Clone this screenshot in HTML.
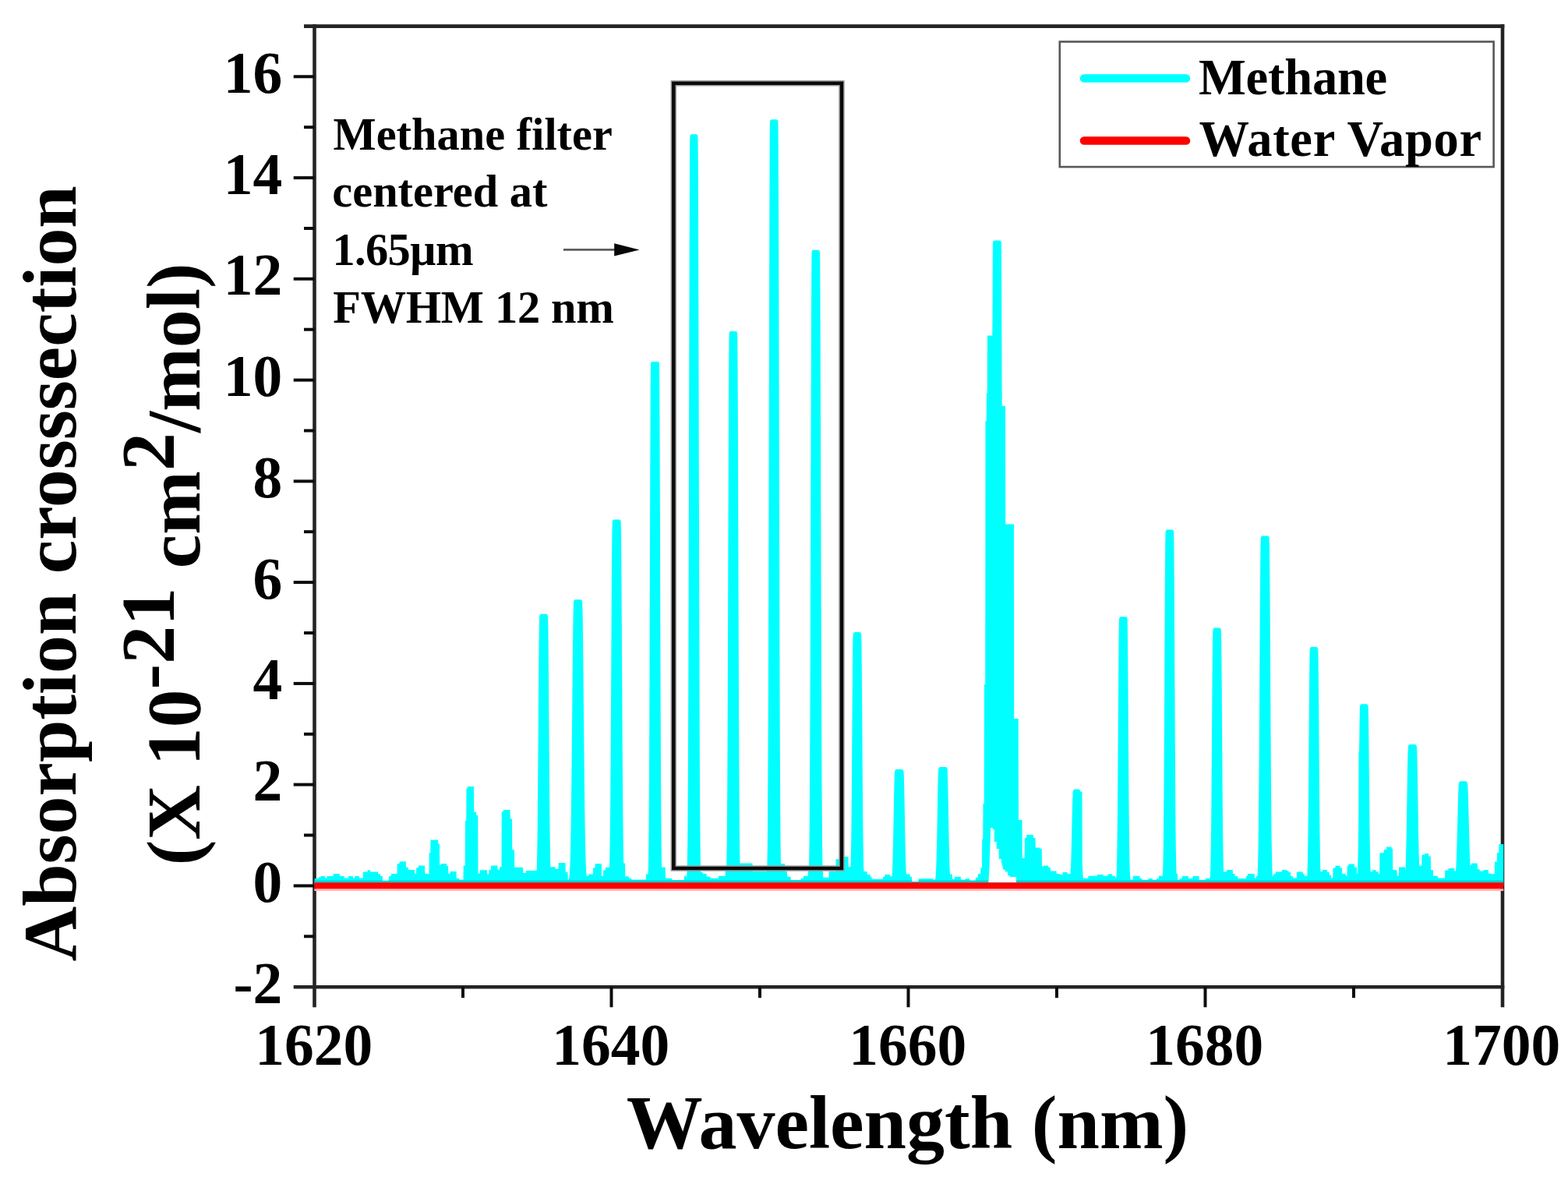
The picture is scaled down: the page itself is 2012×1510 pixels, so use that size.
<!DOCTYPE html>
<html><head><meta charset="utf-8"><title>Methane absorption cross-section</title>
<style>html,body{margin:0;padding:0;background:#fff;}svg{display:block;}</style>
</head><body>
<svg width="2012" height="1510" viewBox="0 0 2012 1510">
<rect width="2012" height="1510" fill="#ffffff"/>
<g stroke="#242424" stroke-width="4.6" fill="none">
<line x1="403.5" y1="31.3" x2="403.5" y2="1292.2"/>
<line x1="1928.0" y1="31.3" x2="1928.0" y2="1292.2"/>
<line x1="390.0" y1="33.6" x2="1930.3" y2="33.6"/>
<line x1="376.7" y1="1266.2" x2="1930.3" y2="1266.2"/>
</g>
<g stroke="#0c0c0c" stroke-width="4" fill="none">
<line x1="390.0" y1="1201.3" x2="403.5" y2="1201.3"/>
<line x1="376.7" y1="1136.4" x2="403.5" y2="1136.4"/>
<line x1="390.0" y1="1071.5" x2="403.5" y2="1071.5"/>
<line x1="376.7" y1="1006.6" x2="403.5" y2="1006.6"/>
<line x1="390.0" y1="941.8" x2="403.5" y2="941.8"/>
<line x1="376.7" y1="876.9" x2="403.5" y2="876.9"/>
<line x1="390.0" y1="812.0" x2="403.5" y2="812.0"/>
<line x1="376.7" y1="747.1" x2="403.5" y2="747.1"/>
<line x1="390.0" y1="682.2" x2="403.5" y2="682.2"/>
<line x1="376.7" y1="617.4" x2="403.5" y2="617.4"/>
<line x1="390.0" y1="552.5" x2="403.5" y2="552.5"/>
<line x1="376.7" y1="487.6" x2="403.5" y2="487.6"/>
<line x1="390.0" y1="422.7" x2="403.5" y2="422.7"/>
<line x1="376.7" y1="357.8" x2="403.5" y2="357.8"/>
<line x1="390.0" y1="293.0" x2="403.5" y2="293.0"/>
<line x1="376.7" y1="228.1" x2="403.5" y2="228.1"/>
<line x1="390.0" y1="163.2" x2="403.5" y2="163.2"/>
<line x1="376.7" y1="98.3" x2="403.5" y2="98.3"/>
<line x1="594.0" y1="1266.2" x2="594.0" y2="1280.2"/>
<line x1="784.5" y1="1266.2" x2="784.5" y2="1292.2"/>
<line x1="975.0" y1="1266.2" x2="975.0" y2="1280.2"/>
<line x1="1165.5" y1="1266.2" x2="1165.5" y2="1292.2"/>
<line x1="1356.0" y1="1266.2" x2="1356.0" y2="1280.2"/>
<line x1="1546.5" y1="1266.2" x2="1546.5" y2="1292.2"/>
<line x1="1737.0" y1="1266.2" x2="1737.0" y2="1280.2"/>
</g>
<defs><clipPath id="cc"><path d="M403.5,1136 L403.50,1131.0 L403.75,1127.0 L408.75,1127.0 L409.00,1125.3 L411.50,1125.3 L411.75,1124.0 L417.00,1124.0 L417.25,1126.6 L419.50,1126.6 L419.75,1124.0 L427.50,1124.0 L427.75,1121.1 L435.75,1121.1 L436.00,1124.0 L442.00,1124.0 L442.25,1126.6 L446.75,1126.6 L447.00,1124.0 L452.75,1124.0 L453.00,1126.6 L455.25,1126.6 L455.50,1124.0 L460.75,1124.0 L461.00,1126.6 L465.75,1126.6 L466.00,1118.6 L471.50,1118.6 L471.75,1116.2 L475.00,1116.2 L475.25,1118.6 L485.00,1118.6 L485.25,1121.3 L488.00,1121.3 L488.25,1124.0 L490.75,1124.0 L491.00,1129.8 L498.75,1129.8 L499.00,1124.0 L501.75,1124.0 L502.00,1121.1 L509.50,1121.1 L509.75,1107.9 L512.50,1107.9 L512.75,1105.2 L520.75,1105.2 L521.00,1112.8 L523.75,1112.8 L524.00,1115.9 L532.00,1115.9 L532.25,1120.8 L534.00,1120.8 L534.25,1113.2 L536.75,1113.2 L537.00,1110.5 L545.00,1110.5 L545.25,1120.8 L547.50,1120.8 L547.75,1121.3 L550.50,1121.3 L550.75,1094.0 L552.25,1094.0 L552.50,1077.4 L562.00,1077.4 L562.25,1082.4 L564.00,1082.4 L564.25,1109.7 L565.75,1109.7 L566.00,1107.9 L573.00,1107.9 L573.25,1111.0 L575.00,1111.0 L575.25,1120.8 L577.50,1120.8 L577.75,1118.1 L585.50,1118.1 L585.75,1126.7 L589.00,1126.7 L589.25,1128.6 L594.50,1128.6 L594.75,1110.4 L596.75,1110.4 L597.00,1052.8 L598.25,1052.8 L598.50,1011.5 L599.75,1011.5 L600.00,1009.1 L608.00,1009.1 L608.25,1041.8 L611.00,1041.8 L611.25,1046.1 L613.25,1046.1 L613.50,1120.5 L615.75,1120.5 L616.00,1116.2 L625.00,1116.2 L625.25,1121.4 L627.25,1121.4 L627.50,1115.7 L630.00,1115.7 L630.25,1110.4 L638.25,1110.4 L638.50,1115.7 L641.00,1115.7 L641.25,1112.3 L643.50,1112.3 L643.75,1041.3 L645.75,1041.3 L646.00,1038.9 L654.50,1038.9 L654.75,1050.4 L657.00,1050.4 L657.25,1090.2 L660.00,1090.2 L660.25,1112.8 L671.00,1112.8 L671.25,1120.0 L674.75,1120.0 L675.00,1117.1 L688.50,1117.1 L688.75,1114.6 L689.00,1106.0 L689.25,1094.0 L689.50,1078.0 L689.75,1057.3 L690.00,1031.9 L690.25,1001.9 L690.50,968.0 L690.75,931.8 L691.00,895.1 L691.25,860.4 L691.50,830.4 L691.75,807.5 L692.00,793.9 L692.25,789.9 L692.50,789.2 L692.75,788.8 L693.00,788.5 L693.25,788.3 L693.50,788.1 L693.75,788.0 L694.00,787.9 L694.25,787.9 L694.50,787.8 L700.75,787.8 L701.00,787.9 L701.25,787.9 L701.50,788.0 L701.75,788.2 L702.00,788.4 L702.25,788.6 L702.50,788.9 L702.75,789.3 L703.00,790.4 L703.25,795.8 L703.50,811.4 L703.75,835.9 L704.00,867.1 L704.25,902.4 L704.50,939.1 L704.75,975.1 L705.00,1008.2 L705.25,1037.4 L705.50,1061.8 L705.75,1081.5 L706.00,1096.7 L706.25,1108.0 L706.50,1112.3 L712.25,1112.3 L712.50,1114.7 L716.50,1114.7 L716.75,1107.0 L725.50,1107.0 L725.75,1119.0 L728.50,1119.0 L728.75,1128.6 L729.75,1128.6 L730.00,1128.1 L730.25,1126.7 L730.50,1124.8 L730.75,1122.2 L731.00,1115.7 L731.25,1114.2 L731.50,1108.3 L731.75,1100.8 L732.00,1091.4 L732.25,1079.9 L732.50,1066.1 L732.75,1049.9 L733.00,1031.1 L733.25,1010.0 L733.50,986.6 L733.75,961.4 L734.00,934.9 L734.25,907.7 L734.50,880.7 L734.75,854.8 L735.00,831.0 L735.25,810.1 L735.50,793.1 L735.75,780.8 L736.00,773.6 L736.25,771.3 L736.50,770.6 L736.75,770.2 L737.00,769.9 L737.25,769.7 L737.50,769.5 L737.75,769.4 L738.00,769.3 L738.25,769.3 L738.50,769.2 L744.75,769.2 L745.00,769.3 L745.25,769.3 L745.50,769.4 L745.75,769.6 L746.00,769.8 L746.25,770.0 L746.50,770.3 L746.75,770.7 L747.00,771.8 L747.25,774.6 L747.50,782.9 L747.75,796.2 L748.00,814.0 L748.25,835.5 L748.50,859.9 L748.75,886.0 L749.00,913.1 L749.25,940.2 L749.50,966.5 L749.75,991.4 L750.00,1014.4 L750.25,1035.1 L750.50,1053.3 L750.75,1069.1 L751.00,1082.4 L751.25,1093.4 L751.50,1102.4 L751.75,1109.6 L752.00,1115.2 L752.25,1119.5 L752.50,1122.8 L752.75,1123.8 L755.25,1123.8 L755.50,1121.4 L761.00,1121.4 L761.25,1113.3 L763.50,1113.3 L763.75,1108.0 L771.75,1108.0 L772.00,1123.8 L774.00,1123.8 L774.25,1116.2 L776.75,1116.2 L777.00,1112.8 L781.75,1112.8 L782.00,1112.3 L782.25,1102.9 L782.50,1089.9 L782.75,1072.6 L783.00,1050.1 L783.25,1022.1 L783.50,988.5 L783.75,949.5 L784.00,906.2 L784.25,860.2 L784.50,813.8 L784.75,769.5 L785.00,730.4 L785.25,699.2 L785.50,678.3 L785.75,669.5 L786.00,668.2 L786.25,667.7 L786.50,667.4 L786.75,667.2 L787.00,667.0 L787.25,666.9 L787.50,666.8 L787.75,666.7 L788.00,666.6 L794.50,666.6 L794.75,666.7 L795.00,666.8 L795.25,666.9 L795.50,667.1 L795.75,667.3 L796.00,667.5 L796.25,667.9 L796.50,668.5 L796.75,671.5 L797.00,685.3 L797.25,710.6 L797.50,745.3 L797.75,786.8 L798.00,832.3 L798.25,878.8 L798.50,924.0 L798.75,965.7 L799.00,1002.6 L799.25,1034.0 L799.50,1059.7 L799.75,1080.1 L800.00,1095.6 L800.25,1107.1 L800.50,1107.5 L802.00,1107.5 L802.25,1124.3 L806.75,1124.3 L807.00,1126.7 L810.00,1126.7 L810.25,1128.6 L828.75,1128.6 L829.00,1121.4 L831.50,1121.4 L831.75,1117.5 L832.00,1107.4 L832.25,1091.4 L832.50,1067.5 L832.75,1033.3 L833.00,987.3 L833.25,928.5 L833.50,857.8 L833.75,778.1 L834.00,694.5 L834.25,613.9 L834.50,544.6 L834.75,494.2 L835.00,468.8 L835.25,465.6 L835.50,465.1 L835.75,464.8 L836.00,464.5 L836.25,464.3 L836.50,464.2 L836.75,464.1 L837.00,464.0 L837.25,463.9 L843.75,463.9 L844.00,464.0 L844.25,464.1 L844.50,464.2 L844.75,464.3 L845.00,464.5 L845.25,464.8 L845.50,465.1 L845.75,465.6 L846.00,468.8 L846.25,494.2 L846.50,544.6 L846.75,613.9 L847.00,694.5 L847.25,778.1 L847.50,857.8 L847.75,928.5 L848.00,987.3 L848.25,1033.3 L848.50,1067.5 L848.75,1091.4 L849.00,1107.4 L849.25,1112.8 L853.75,1112.8 L854.00,1126.7 L862.00,1126.7 L862.25,1129.1 L877.75,1129.1 L878.00,1123.8 L880.75,1123.8 L881.00,1127.9 L881.25,1125.1 L881.50,1120.4 L881.75,1112.4 L882.00,1099.7 L882.25,1080.2 L882.50,1051.6 L882.75,1011.3 L883.00,957.0 L883.25,887.4 L883.50,802.4 L883.75,703.7 L884.00,595.6 L884.25,484.4 L884.50,378.6 L884.75,287.2 L885.00,219.0 L885.25,181.1 L885.50,174.1 L885.75,173.5 L886.00,173.1 L886.25,172.9 L886.50,172.7 L886.75,172.5 L887.00,172.4 L887.25,172.3 L887.50,172.2 L893.25,172.2 L893.50,172.3 L893.75,172.4 L894.00,172.5 L894.25,172.6 L894.50,172.8 L894.75,173.1 L895.00,173.4 L895.25,173.9 L895.50,177.6 L895.75,208.8 L896.00,271.4 L896.25,358.8 L896.50,462.5 L896.75,573.3 L897.00,682.7 L897.25,783.6 L897.50,871.6 L897.75,944.4 L898.00,1001.6 L898.25,1044.5 L898.50,1075.3 L898.75,1096.4 L899.00,1110.3 L899.25,1119.0 L901.75,1119.0 L902.00,1121.0 L906.50,1121.0 L906.75,1124.8 L911.50,1124.8 L911.75,1126.7 L921.75,1126.7 L922.00,1123.8 L930.50,1123.8 L930.75,1117.1 L932.00,1117.1 L932.25,1110.2 L932.50,1097.0 L932.75,1077.4 L933.00,1049.6 L933.25,1011.9 L933.50,963.0 L933.75,902.6 L934.00,831.8 L934.25,753.3 L934.50,671.5 L934.75,592.4 L935.00,522.4 L935.25,468.4 L935.50,435.8 L935.75,427.0 L936.00,426.3 L936.25,425.9 L936.50,425.6 L936.75,425.4 L937.00,425.2 L937.25,425.1 L937.50,425.0 L937.75,425.0 L938.00,424.9 L944.00,424.9 L944.25,425.0 L944.50,425.1 L944.75,425.2 L945.00,425.4 L945.25,425.6 L945.50,425.8 L945.75,426.2 L946.00,426.8 L946.25,432.2 L946.50,460.0 L946.75,510.2 L947.00,577.4 L947.25,655.3 L947.50,737.1 L947.75,816.6 L948.00,889.2 L948.25,951.8 L948.50,1003.0 L948.75,1042.9 L949.00,1072.6 L949.25,1093.6 L949.50,1107.5 L965.50,1107.5 L965.75,1118.1 L984.00,1118.1 L984.25,1115.8 L984.50,1105.0 L984.75,1088.2 L985.00,1063.0 L985.25,1026.9 L985.50,977.5 L985.75,912.9 L986.00,832.4 L986.25,737.0 L986.50,629.9 L986.75,516.8 L987.00,405.6 L987.25,305.4 L987.50,225.4 L987.75,173.8 L988.00,155.9 L988.25,154.8 L988.50,154.4 L988.75,154.1 L989.00,153.9 L989.25,153.7 L989.50,153.5 L989.75,153.4 L990.00,153.4 L990.25,153.3 L996.25,153.3 L996.50,153.4 L996.75,153.5 L997.00,153.6 L997.25,153.7 L997.50,153.9 L997.75,154.2 L998.00,154.5 L998.25,155.0 L998.50,158.8 L998.75,190.6 L999.00,254.4 L999.25,343.6 L999.50,449.3 L999.75,562.3 L1000.00,673.8 L1000.25,776.8 L1000.50,866.5 L1000.75,940.7 L1001.00,999.0 L1001.25,1042.8 L1001.50,1074.2 L1001.75,1095.8 L1002.00,1108.0 L1007.00,1108.0 L1007.25,1118.0 L1010.00,1118.0 L1010.25,1124.8 L1014.50,1124.8 L1014.75,1129.0 L1027.75,1129.0 L1028.00,1126.7 L1030.75,1126.7 L1031.00,1123.8 L1036.75,1123.8 L1037.00,1115.0 L1037.75,1115.0 L1038.00,1113.5 L1038.25,1101.8 L1038.50,1084.0 L1038.75,1058.0 L1039.00,1021.7 L1039.25,973.4 L1039.50,911.9 L1039.75,837.6 L1040.00,752.3 L1040.25,659.9 L1040.50,566.4 L1040.75,478.7 L1041.00,404.9 L1041.25,352.0 L1041.50,325.7 L1041.75,322.4 L1042.00,321.9 L1042.25,321.6 L1042.50,321.3 L1042.75,321.1 L1043.00,321.0 L1043.25,320.9 L1043.50,320.8 L1043.75,320.7 L1049.75,320.7 L1050.00,320.8 L1050.25,320.8 L1050.50,320.9 L1050.75,321.1 L1051.00,321.3 L1051.25,321.5 L1051.50,321.8 L1051.75,322.2 L1052.00,323.3 L1052.25,338.1 L1052.50,380.9 L1052.75,447.1 L1053.00,530.2 L1053.25,622.3 L1053.50,715.9 L1053.75,804.6 L1054.00,883.7 L1054.25,950.4 L1054.50,1003.9 L1054.75,1044.8 L1055.00,1074.7 L1055.25,1095.5 L1055.50,1109.5 L1055.75,1118.0 L1056.00,1118.0 L1056.25,1125.8 L1063.50,1125.8 L1063.75,1118.0 L1072.25,1118.0 L1072.50,1102.2 L1078.75,1102.2 L1079.00,1097.0 L1082.75,1097.0 L1083.00,1098.9 L1088.50,1098.9 L1088.75,1112.3 L1091.50,1112.3 L1091.75,1106.8 L1092.00,1094.3 L1092.25,1077.3 L1092.50,1055.2 L1092.75,1028.0 L1093.00,996.0 L1093.25,960.6 L1093.50,923.7 L1093.75,888.0 L1094.00,856.4 L1094.25,832.1 L1094.50,817.3 L1094.75,813.1 L1095.00,812.4 L1095.25,812.0 L1095.50,811.7 L1095.75,811.5 L1096.00,811.3 L1096.25,811.2 L1096.50,811.1 L1096.75,811.1 L1097.00,811.0 L1103.00,811.0 L1103.25,811.1 L1103.50,811.2 L1103.75,811.3 L1104.00,811.5 L1104.25,811.7 L1104.50,811.9 L1104.75,812.3 L1105.00,812.9 L1105.25,815.7 L1105.50,828.3 L1105.75,850.9 L1106.00,881.2 L1106.25,916.4 L1106.50,953.3 L1106.75,989.2 L1107.00,1021.9 L1107.25,1050.2 L1107.50,1073.3 L1107.75,1091.3 L1108.00,1104.6 L1108.25,1114.1 L1108.50,1118.0 L1112.50,1118.0 L1112.75,1122.0 L1116.50,1122.0 L1116.75,1124.8 L1118.50,1124.8 L1118.75,1127.7 L1132.75,1127.7 L1133.00,1124.8 L1135.25,1124.8 L1135.50,1122.0 L1142.00,1122.0 L1142.25,1124.3 L1144.50,1124.3 L1144.75,1121.0 L1145.00,1116.5 L1145.25,1110.6 L1145.50,1103.0 L1145.75,1093.7 L1146.00,1082.8 L1146.25,1070.3 L1146.50,1056.6 L1146.75,1042.4 L1147.00,1028.3 L1147.25,1015.3 L1147.50,1004.2 L1147.75,995.8 L1148.00,990.9 L1148.25,989.1 L1148.50,988.4 L1148.75,988.0 L1149.00,987.7 L1149.25,987.5 L1149.50,987.3 L1149.75,987.2 L1150.00,987.1 L1150.25,987.1 L1150.50,987.0 L1157.25,987.0 L1157.50,987.1 L1157.75,987.2 L1158.00,987.3 L1158.25,987.4 L1158.50,987.6 L1158.75,987.9 L1159.00,988.2 L1159.25,988.7 L1159.50,989.9 L1159.75,993.4 L1160.00,1000.5 L1160.25,1010.6 L1160.50,1022.9 L1160.75,1036.7 L1161.00,1050.9 L1161.25,1064.9 L1161.50,1077.9 L1161.75,1089.6 L1162.00,1099.5 L1162.25,1107.7 L1162.50,1114.3 L1162.75,1119.3 L1163.00,1121.4 L1167.50,1121.4 L1167.75,1124.8 L1170.00,1124.8 L1170.25,1131.0 L1178.50,1131.0 L1178.75,1127.2 L1197.25,1127.2 L1197.50,1128.6 L1200.00,1128.6 L1200.25,1127.2 L1200.50,1125.2 L1200.75,1122.2 L1201.00,1118.2 L1201.25,1112.7 L1201.50,1105.7 L1201.75,1097.0 L1202.00,1086.4 L1202.25,1074.2 L1202.50,1060.7 L1202.75,1046.3 L1203.00,1031.8 L1203.25,1018.0 L1203.50,1005.7 L1203.75,996.0 L1204.00,989.5 L1204.25,986.7 L1204.50,985.6 L1204.75,985.1 L1205.00,984.8 L1205.25,984.6 L1205.50,984.4 L1205.75,984.3 L1206.00,984.2 L1206.25,984.1 L1206.50,984.0 L1213.25,984.0 L1213.50,984.1 L1213.75,984.1 L1214.00,984.2 L1214.25,984.4 L1214.50,984.6 L1214.75,984.8 L1215.00,985.1 L1215.25,985.5 L1215.50,986.6 L1215.75,988.6 L1216.00,994.4 L1216.25,1003.6 L1216.50,1015.4 L1216.75,1029.0 L1217.00,1043.4 L1217.25,1057.9 L1217.50,1071.6 L1217.75,1084.1 L1218.00,1095.0 L1218.25,1104.1 L1218.50,1111.5 L1218.75,1117.2 L1219.00,1121.4 L1221.75,1121.4 L1222.00,1127.7 L1225.00,1127.7 L1225.25,1124.8 L1232.75,1124.8 L1233.00,1128.6 L1238.50,1128.6 L1238.75,1127.2 L1244.25,1127.2 L1244.50,1129.6 L1251.75,1129.6 L1252.00,1125.8 L1254.75,1125.8 L1255.00,1121.0 L1258.25,1121.0 L1258.50,1113.3 L1260.00,1113.3 L1260.25,1076.8 L1261.25,1076.8 L1261.50,1031.0 L1262.75,1031.0 L1263.00,878.0 L1264.25,878.0 L1264.50,540.0 L1265.75,540.0 L1266.00,504.5 L1266.75,504.5 L1267.00,430.6 L1273.25,430.6 L1273.50,407.4 L1273.75,336.3 L1274.00,311.1 L1274.25,310.0 L1274.50,309.6 L1274.75,309.3 L1275.00,309.1 L1275.25,308.9 L1275.50,308.7 L1275.75,308.6 L1276.00,308.6 L1276.25,308.5 L1282.50,308.5 L1282.75,308.6 L1283.00,308.6 L1283.25,308.7 L1283.50,308.8 L1283.75,309.0 L1284.00,309.2 L1284.25,309.5 L1284.50,309.9 L1284.75,310.6 L1285.00,327.3 L1285.25,390.1 L1285.50,489.3 L1285.75,520.8 L1290.00,520.8 L1290.25,672.5 L1301.00,672.5 L1301.25,922.0 L1306.75,922.0 L1307.00,1052.0 L1311.50,1052.0 L1311.75,1100.8 L1314.75,1100.8 L1315.00,1074.9 L1317.00,1074.9 L1317.25,1071.0 L1325.75,1071.0 L1326.00,1074.9 L1328.50,1074.9 L1328.75,1087.4 L1334.00,1087.4 L1334.25,1088.8 L1336.75,1088.8 L1337.00,1111.4 L1339.00,1111.4 L1339.25,1110.4 L1345.00,1110.4 L1345.25,1112.8 L1347.75,1112.8 L1348.00,1117.6 L1355.50,1117.6 L1355.75,1121.0 L1359.75,1121.0 L1360.00,1122.0 L1363.50,1122.0 L1363.75,1119.0 L1369.50,1119.0 L1369.75,1121.0 L1373.50,1121.0 L1373.75,1118.2 L1374.00,1113.1 L1374.25,1106.7 L1374.50,1098.8 L1374.75,1089.5 L1375.00,1079.0 L1375.25,1067.7 L1375.50,1056.0 L1375.75,1044.6 L1376.00,1034.2 L1376.25,1025.5 L1376.50,1019.1 L1376.75,1015.7 L1377.00,1014.4 L1377.25,1013.8 L1377.50,1013.4 L1377.75,1013.2 L1378.00,1013.0 L1378.25,1012.8 L1378.50,1012.7 L1378.75,1012.6 L1379.00,1012.5 L1384.00,1012.5 L1384.25,1012.6 L1384.50,1012.7 L1384.75,1012.8 L1385.00,1013.0 L1385.25,1013.2 L1385.50,1013.4 L1385.75,1013.8 L1386.00,1014.4 L1386.25,1015.4 L1388.50,1015.4 L1388.75,1106.7 L1389.00,1113.1 L1389.25,1118.2 L1389.50,1122.1 L1389.75,1125.0 L1390.00,1126.7 L1396.25,1126.7 L1396.50,1123.8 L1407.75,1123.8 L1408.00,1122.0 L1415.50,1122.0 L1415.75,1123.8 L1421.25,1123.8 L1421.50,1121.4 L1427.00,1121.4 L1427.25,1123.8 L1430.75,1123.8 L1431.00,1125.8 L1432.25,1125.8 L1432.50,1123.7 L1432.75,1118.8 L1433.00,1111.4 L1433.25,1100.5 L1433.50,1085.4 L1433.75,1065.2 L1434.00,1039.5 L1434.25,1008.5 L1434.50,972.9 L1434.75,934.3 L1435.00,895.3 L1435.25,858.7 L1435.50,827.9 L1435.75,805.8 L1436.00,794.8 L1436.25,792.9 L1436.50,792.4 L1436.75,792.1 L1437.00,791.8 L1437.25,791.6 L1437.50,791.5 L1437.75,791.4 L1438.00,791.3 L1438.25,791.2 L1444.25,791.2 L1444.50,791.3 L1444.75,791.3 L1445.00,791.4 L1445.25,791.6 L1445.50,791.8 L1445.75,792.0 L1446.00,792.3 L1446.25,792.7 L1446.50,793.8 L1446.75,800.0 L1447.00,817.8 L1447.25,845.5 L1447.50,880.2 L1447.75,918.6 L1448.00,957.7 L1448.25,994.7 L1448.50,1027.7 L1448.75,1055.6 L1449.00,1077.9 L1449.25,1095.0 L1449.50,1107.5 L1449.75,1116.2 L1450.00,1122.0 L1450.25,1125.7 L1450.50,1128.0 L1450.75,1128.6 L1453.75,1128.6 L1454.00,1123.8 L1462.50,1123.8 L1462.75,1126.7 L1465.00,1126.7 L1465.25,1128.7 L1473.25,1128.7 L1473.50,1126.9 L1478.75,1126.9 L1479.00,1128.7 L1483.75,1128.7 L1484.00,1126.9 L1486.75,1126.9 L1487.00,1123.7 L1491.75,1123.7 L1492.00,1121.3 L1492.25,1114.8 L1492.50,1104.9 L1492.75,1090.4 L1493.00,1070.2 L1493.25,1043.4 L1493.50,1009.2 L1493.75,967.9 L1494.00,920.5 L1494.25,869.2 L1494.50,817.2 L1494.75,768.5 L1495.00,727.5 L1495.25,698.1 L1495.50,683.4 L1495.75,681.2 L1496.00,680.7 L1496.25,680.4 L1496.50,680.1 L1496.75,679.9 L1497.00,679.8 L1497.25,679.7 L1497.50,679.6 L1497.75,679.5 L1503.75,679.5 L1504.00,679.6 L1504.25,679.6 L1504.50,679.7 L1504.75,679.9 L1505.00,680.1 L1505.25,680.3 L1505.50,680.6 L1505.75,681.0 L1506.00,682.1 L1506.25,690.3 L1506.50,714.1 L1506.75,750.9 L1507.00,797.1 L1507.25,848.3 L1507.50,900.3 L1507.75,949.6 L1508.00,993.5 L1508.25,1030.6 L1508.50,1060.4 L1508.75,1083.1 L1509.00,1099.7 L1509.25,1111.3 L1509.50,1119.0 L1509.75,1121.0 L1511.00,1121.0 L1511.25,1128.7 L1513.50,1128.7 L1513.75,1126.9 L1516.75,1126.9 L1517.00,1124.1 L1524.75,1124.1 L1525.00,1126.9 L1530.25,1126.9 L1530.50,1124.1 L1538.50,1124.1 L1538.75,1128.7 L1546.75,1128.7 L1547.00,1126.9 L1552.50,1126.9 L1552.75,1124.7 L1553.00,1120.4 L1553.25,1113.9 L1553.50,1104.2 L1553.75,1090.6 L1554.00,1072.3 L1554.25,1048.8 L1554.50,1020.0 L1554.75,986.7 L1555.00,950.2 L1555.25,912.7 L1555.50,876.9 L1555.75,846.0 L1556.00,823.0 L1556.25,810.2 L1556.50,807.4 L1556.75,806.8 L1557.00,806.4 L1557.25,806.2 L1557.50,806.0 L1557.75,805.8 L1558.00,805.7 L1558.25,805.6 L1558.50,805.5 L1564.50,805.5 L1564.75,805.6 L1565.00,805.6 L1565.25,805.7 L1565.50,805.8 L1565.75,806.0 L1566.00,806.2 L1566.25,806.5 L1566.50,806.9 L1566.75,807.6 L1567.00,811.9 L1567.25,826.9 L1567.50,851.7 L1567.75,883.8 L1568.00,920.1 L1568.25,957.7 L1568.50,993.7 L1568.75,1026.2 L1569.00,1053.9 L1569.25,1076.3 L1569.50,1093.6 L1569.75,1106.4 L1570.00,1115.4 L1570.25,1118.6 L1573.75,1118.6 L1574.00,1115.9 L1581.75,1115.9 L1582.00,1121.0 L1584.50,1121.0 L1584.75,1124.1 L1588.00,1124.1 L1588.25,1126.9 L1599.00,1126.9 L1599.25,1123.7 L1600.75,1123.7 L1601.00,1121.0 L1609.75,1121.0 L1610.00,1126.4 L1611.75,1126.4 L1612.00,1124.1 L1613.25,1124.1 L1613.50,1123.8 L1613.75,1119.5 L1614.00,1113.2 L1614.25,1104.2 L1614.50,1091.8 L1614.75,1075.2 L1615.00,1053.8 L1615.25,1027.1 L1615.50,994.9 L1615.75,957.7 L1616.00,916.4 L1616.25,872.5 L1616.50,828.1 L1616.75,785.9 L1617.00,748.6 L1617.25,718.8 L1617.50,698.8 L1617.75,690.3 L1618.00,689.1 L1618.25,688.6 L1618.50,688.3 L1618.75,688.1 L1619.00,687.9 L1619.25,687.8 L1619.50,687.7 L1619.75,687.6 L1620.00,687.5 L1626.50,687.5 L1626.75,687.6 L1627.00,687.7 L1627.25,687.8 L1627.50,688.0 L1627.75,688.2 L1628.00,688.4 L1628.25,688.8 L1628.50,689.4 L1628.75,692.3 L1629.00,705.5 L1629.25,729.6 L1629.50,762.7 L1629.75,802.4 L1630.00,845.8 L1630.25,890.2 L1630.50,933.3 L1630.75,973.2 L1631.00,1008.4 L1631.25,1038.4 L1631.50,1063.0 L1631.75,1082.4 L1632.00,1097.2 L1632.25,1108.2 L1632.50,1116.0 L1632.75,1121.4 L1633.00,1123.7 L1634.00,1123.7 L1634.25,1121.0 L1636.75,1121.0 L1637.00,1118.6 L1644.75,1118.6 L1645.00,1115.9 L1651.00,1115.9 L1651.25,1117.2 L1653.50,1117.2 L1653.75,1119.0 L1656.00,1119.0 L1656.25,1124.1 L1658.75,1124.1 L1659.00,1126.4 L1663.75,1126.4 L1664.00,1118.6 L1671.50,1118.6 L1671.75,1121.0 L1673.50,1121.0 L1673.75,1123.7 L1677.25,1123.7 L1677.50,1119.1 L1677.75,1112.0 L1678.00,1101.7 L1678.25,1087.4 L1678.50,1068.6 L1678.75,1044.9 L1679.00,1016.6 L1679.25,984.4 L1679.50,950.0 L1679.75,915.7 L1680.00,884.1 L1680.25,858.1 L1680.50,840.4 L1680.75,832.8 L1681.00,831.6 L1681.25,831.1 L1681.50,830.8 L1681.75,830.6 L1682.00,830.4 L1682.25,830.3 L1682.50,830.2 L1682.75,830.1 L1683.00,830.0 L1689.00,830.0 L1689.25,830.1 L1689.50,830.2 L1689.75,830.3 L1690.00,830.4 L1690.25,830.6 L1690.50,830.8 L1690.75,831.1 L1691.00,831.6 L1691.25,832.8 L1691.50,840.4 L1691.75,858.1 L1692.00,884.1 L1692.25,915.7 L1692.50,950.0 L1692.75,984.4 L1693.00,1016.6 L1693.25,1044.9 L1693.50,1068.6 L1693.75,1087.4 L1694.00,1101.7 L1694.25,1112.0 L1694.50,1118.2 L1696.75,1118.2 L1697.00,1115.9 L1702.75,1115.9 L1703.00,1119.0 L1705.50,1119.0 L1705.75,1122.8 L1708.00,1122.8 L1708.25,1126.4 L1710.25,1126.4 L1710.50,1113.6 L1713.25,1113.6 L1713.50,1110.8 L1719.50,1110.8 L1719.75,1113.6 L1722.00,1113.6 L1722.25,1121.0 L1726.75,1121.0 L1727.00,1123.7 L1728.50,1123.7 L1728.75,1110.8 L1730.25,1110.8 L1730.50,1108.5 L1737.75,1108.5 L1738.00,1112.6 L1741.00,1112.6 L1741.25,1121.0 L1741.75,1121.0 L1742.00,1117.9 L1742.25,1110.6 L1742.50,1100.5 L1742.75,1087.0 L1743.00,1069.9 L1743.25,1049.2 L1743.50,964.4 L1744.00,964.4 L1744.25,949.1 L1744.50,928.6 L1744.75,913.8 L1745.00,906.5 L1745.25,904.9 L1745.50,904.4 L1745.75,904.1 L1746.00,903.8 L1746.25,903.6 L1746.50,903.5 L1746.75,903.4 L1747.00,903.3 L1747.25,903.2 L1753.25,903.2 L1753.50,903.3 L1753.75,903.3 L1754.00,903.4 L1754.25,903.6 L1754.50,903.8 L1754.75,904.0 L1755.00,904.3 L1755.25,904.7 L1755.50,905.8 L1755.75,909.9 L1756.00,921.9 L1756.25,940.3 L1756.50,963.5 L1756.75,989.2 L1757.00,1015.3 L1757.25,1040.0 L1757.50,1062.0 L1757.75,1080.6 L1758.00,1095.6 L1758.25,1107.0 L1758.50,1115.3 L1758.75,1118.6 L1760.75,1118.6 L1761.00,1116.3 L1765.50,1116.3 L1765.75,1118.2 L1768.50,1118.2 L1768.75,1121.0 L1770.25,1121.0 L1770.50,1094.2 L1775.50,1094.2 L1775.75,1090.1 L1778.75,1090.1 L1779.00,1086.4 L1785.50,1086.4 L1785.75,1088.7 L1787.00,1088.7 L1787.25,1115.9 L1789.75,1115.9 L1790.00,1116.3 L1792.50,1116.3 L1792.75,1123.7 L1794.75,1123.7 L1795.00,1112.6 L1803.00,1112.6 L1803.25,1117.2 L1803.50,1115.2 L1803.75,1109.0 L1804.00,1101.1 L1804.25,1091.4 L1804.50,1079.8 L1804.75,1066.5 L1805.00,1051.6 L1805.25,1035.7 L1805.50,1019.3 L1805.75,1003.2 L1806.00,988.4 L1806.25,975.6 L1806.50,965.9 L1806.75,959.7 L1807.00,957.6 L1807.25,956.5 L1807.50,956.1 L1807.75,955.8 L1808.00,955.6 L1808.25,955.4 L1808.50,955.2 L1808.75,955.1 L1809.00,955.1 L1809.25,955.0 L1815.50,955.0 L1815.75,955.1 L1816.00,955.1 L1816.25,955.2 L1816.50,955.3 L1816.75,955.5 L1817.00,955.7 L1817.25,956.0 L1817.50,956.4 L1817.75,957.1 L1818.00,958.9 L1818.25,964.3 L1818.50,973.4 L1818.75,985.6 L1819.00,1000.1 L1819.25,1016.0 L1819.50,1032.4 L1819.75,1048.5 L1820.00,1063.6 L1820.25,1077.3 L1820.50,1089.2 L1820.75,1099.3 L1821.00,1107.5 L1821.25,1110.8 L1824.25,1110.8 L1824.50,1096.4 L1828.00,1096.4 L1828.25,1094.9 L1833.00,1094.9 L1833.25,1098.4 L1835.75,1098.4 L1836.00,1116.1 L1838.75,1116.1 L1839.00,1123.4 L1841.50,1123.4 L1841.75,1124.1 L1845.00,1124.1 L1845.25,1126.6 L1854.00,1126.6 L1854.25,1116.5 L1858.25,1116.5 L1858.50,1114.0 L1866.25,1114.0 L1866.50,1117.5 L1868.00,1117.5 L1868.25,1114.8 L1868.50,1110.0 L1868.75,1104.3 L1869.00,1097.7 L1869.25,1090.0 L1869.50,1081.5 L1869.75,1072.3 L1870.00,1062.5 L1870.25,1052.4 L1870.50,1042.5 L1870.75,1033.0 L1871.00,1024.3 L1871.25,1016.8 L1871.50,1010.9 L1871.75,1006.9 L1872.00,1005.0 L1872.25,1003.9 L1872.50,1003.4 L1872.75,1003.1 L1873.00,1002.8 L1873.25,1002.6 L1873.50,1002.5 L1873.75,1002.4 L1874.00,1002.3 L1874.25,1002.2 L1880.75,1002.2 L1881.00,1002.3 L1881.25,1002.4 L1881.50,1002.5 L1881.75,1002.6 L1882.00,1002.8 L1882.25,1003.1 L1882.50,1003.4 L1882.75,1003.9 L1883.00,1005.0 L1883.25,1006.9 L1883.50,1010.9 L1883.75,1016.8 L1884.00,1024.3 L1884.25,1033.0 L1884.50,1042.5 L1884.75,1052.4 L1885.00,1062.5 L1885.25,1072.3 L1885.50,1081.5 L1885.75,1090.0 L1886.00,1097.7 L1886.25,1104.3 L1886.50,1109.9 L1887.75,1109.9 L1888.00,1107.4 L1895.75,1107.4 L1896.00,1115.1 L1898.50,1115.1 L1898.75,1117.5 L1903.50,1117.5 L1903.75,1116.1 L1909.75,1116.1 L1910.00,1120.6 L1913.25,1120.6 L1913.50,1121.3 L1917.75,1121.3 L1918.00,1105.4 L1920.75,1105.4 L1921.00,1093.9 L1923.25,1093.9 L1923.50,1083.1 L1929.25,1083.1 L1929.25,1136 Z"/></clipPath></defs>
<path d="M403.5,1136 L403.50,1131.0 L403.75,1127.0 L408.75,1127.0 L409.00,1125.3 L411.50,1125.3 L411.75,1124.0 L417.00,1124.0 L417.25,1126.6 L419.50,1126.6 L419.75,1124.0 L427.50,1124.0 L427.75,1121.1 L435.75,1121.1 L436.00,1124.0 L442.00,1124.0 L442.25,1126.6 L446.75,1126.6 L447.00,1124.0 L452.75,1124.0 L453.00,1126.6 L455.25,1126.6 L455.50,1124.0 L460.75,1124.0 L461.00,1126.6 L465.75,1126.6 L466.00,1118.6 L471.50,1118.6 L471.75,1116.2 L475.00,1116.2 L475.25,1118.6 L485.00,1118.6 L485.25,1121.3 L488.00,1121.3 L488.25,1124.0 L490.75,1124.0 L491.00,1129.8 L498.75,1129.8 L499.00,1124.0 L501.75,1124.0 L502.00,1121.1 L509.50,1121.1 L509.75,1107.9 L512.50,1107.9 L512.75,1105.2 L520.75,1105.2 L521.00,1112.8 L523.75,1112.8 L524.00,1115.9 L532.00,1115.9 L532.25,1120.8 L534.00,1120.8 L534.25,1113.2 L536.75,1113.2 L537.00,1110.5 L545.00,1110.5 L545.25,1120.8 L547.50,1120.8 L547.75,1121.3 L550.50,1121.3 L550.75,1094.0 L552.25,1094.0 L552.50,1077.4 L562.00,1077.4 L562.25,1082.4 L564.00,1082.4 L564.25,1109.7 L565.75,1109.7 L566.00,1107.9 L573.00,1107.9 L573.25,1111.0 L575.00,1111.0 L575.25,1120.8 L577.50,1120.8 L577.75,1118.1 L585.50,1118.1 L585.75,1126.7 L589.00,1126.7 L589.25,1128.6 L594.50,1128.6 L594.75,1110.4 L596.75,1110.4 L597.00,1052.8 L598.25,1052.8 L598.50,1011.5 L599.75,1011.5 L600.00,1009.1 L608.00,1009.1 L608.25,1041.8 L611.00,1041.8 L611.25,1046.1 L613.25,1046.1 L613.50,1120.5 L615.75,1120.5 L616.00,1116.2 L625.00,1116.2 L625.25,1121.4 L627.25,1121.4 L627.50,1115.7 L630.00,1115.7 L630.25,1110.4 L638.25,1110.4 L638.50,1115.7 L641.00,1115.7 L641.25,1112.3 L643.50,1112.3 L643.75,1041.3 L645.75,1041.3 L646.00,1038.9 L654.50,1038.9 L654.75,1050.4 L657.00,1050.4 L657.25,1090.2 L660.00,1090.2 L660.25,1112.8 L671.00,1112.8 L671.25,1120.0 L674.75,1120.0 L675.00,1117.1 L688.50,1117.1 L688.75,1114.6 L689.00,1106.0 L689.25,1094.0 L689.50,1078.0 L689.75,1057.3 L690.00,1031.9 L690.25,1001.9 L690.50,968.0 L690.75,931.8 L691.00,895.1 L691.25,860.4 L691.50,830.4 L691.75,807.5 L692.00,793.9 L692.25,789.9 L692.50,789.2 L692.75,788.8 L693.00,788.5 L693.25,788.3 L693.50,788.1 L693.75,788.0 L694.00,787.9 L694.25,787.9 L694.50,787.8 L700.75,787.8 L701.00,787.9 L701.25,787.9 L701.50,788.0 L701.75,788.2 L702.00,788.4 L702.25,788.6 L702.50,788.9 L702.75,789.3 L703.00,790.4 L703.25,795.8 L703.50,811.4 L703.75,835.9 L704.00,867.1 L704.25,902.4 L704.50,939.1 L704.75,975.1 L705.00,1008.2 L705.25,1037.4 L705.50,1061.8 L705.75,1081.5 L706.00,1096.7 L706.25,1108.0 L706.50,1112.3 L712.25,1112.3 L712.50,1114.7 L716.50,1114.7 L716.75,1107.0 L725.50,1107.0 L725.75,1119.0 L728.50,1119.0 L728.75,1128.6 L729.75,1128.6 L730.00,1128.1 L730.25,1126.7 L730.50,1124.8 L730.75,1122.2 L731.00,1115.7 L731.25,1114.2 L731.50,1108.3 L731.75,1100.8 L732.00,1091.4 L732.25,1079.9 L732.50,1066.1 L732.75,1049.9 L733.00,1031.1 L733.25,1010.0 L733.50,986.6 L733.75,961.4 L734.00,934.9 L734.25,907.7 L734.50,880.7 L734.75,854.8 L735.00,831.0 L735.25,810.1 L735.50,793.1 L735.75,780.8 L736.00,773.6 L736.25,771.3 L736.50,770.6 L736.75,770.2 L737.00,769.9 L737.25,769.7 L737.50,769.5 L737.75,769.4 L738.00,769.3 L738.25,769.3 L738.50,769.2 L744.75,769.2 L745.00,769.3 L745.25,769.3 L745.50,769.4 L745.75,769.6 L746.00,769.8 L746.25,770.0 L746.50,770.3 L746.75,770.7 L747.00,771.8 L747.25,774.6 L747.50,782.9 L747.75,796.2 L748.00,814.0 L748.25,835.5 L748.50,859.9 L748.75,886.0 L749.00,913.1 L749.25,940.2 L749.50,966.5 L749.75,991.4 L750.00,1014.4 L750.25,1035.1 L750.50,1053.3 L750.75,1069.1 L751.00,1082.4 L751.25,1093.4 L751.50,1102.4 L751.75,1109.6 L752.00,1115.2 L752.25,1119.5 L752.50,1122.8 L752.75,1123.8 L755.25,1123.8 L755.50,1121.4 L761.00,1121.4 L761.25,1113.3 L763.50,1113.3 L763.75,1108.0 L771.75,1108.0 L772.00,1123.8 L774.00,1123.8 L774.25,1116.2 L776.75,1116.2 L777.00,1112.8 L781.75,1112.8 L782.00,1112.3 L782.25,1102.9 L782.50,1089.9 L782.75,1072.6 L783.00,1050.1 L783.25,1022.1 L783.50,988.5 L783.75,949.5 L784.00,906.2 L784.25,860.2 L784.50,813.8 L784.75,769.5 L785.00,730.4 L785.25,699.2 L785.50,678.3 L785.75,669.5 L786.00,668.2 L786.25,667.7 L786.50,667.4 L786.75,667.2 L787.00,667.0 L787.25,666.9 L787.50,666.8 L787.75,666.7 L788.00,666.6 L794.50,666.6 L794.75,666.7 L795.00,666.8 L795.25,666.9 L795.50,667.1 L795.75,667.3 L796.00,667.5 L796.25,667.9 L796.50,668.5 L796.75,671.5 L797.00,685.3 L797.25,710.6 L797.50,745.3 L797.75,786.8 L798.00,832.3 L798.25,878.8 L798.50,924.0 L798.75,965.7 L799.00,1002.6 L799.25,1034.0 L799.50,1059.7 L799.75,1080.1 L800.00,1095.6 L800.25,1107.1 L800.50,1107.5 L802.00,1107.5 L802.25,1124.3 L806.75,1124.3 L807.00,1126.7 L810.00,1126.7 L810.25,1128.6 L828.75,1128.6 L829.00,1121.4 L831.50,1121.4 L831.75,1117.5 L832.00,1107.4 L832.25,1091.4 L832.50,1067.5 L832.75,1033.3 L833.00,987.3 L833.25,928.5 L833.50,857.8 L833.75,778.1 L834.00,694.5 L834.25,613.9 L834.50,544.6 L834.75,494.2 L835.00,468.8 L835.25,465.6 L835.50,465.1 L835.75,464.8 L836.00,464.5 L836.25,464.3 L836.50,464.2 L836.75,464.1 L837.00,464.0 L837.25,463.9 L843.75,463.9 L844.00,464.0 L844.25,464.1 L844.50,464.2 L844.75,464.3 L845.00,464.5 L845.25,464.8 L845.50,465.1 L845.75,465.6 L846.00,468.8 L846.25,494.2 L846.50,544.6 L846.75,613.9 L847.00,694.5 L847.25,778.1 L847.50,857.8 L847.75,928.5 L848.00,987.3 L848.25,1033.3 L848.50,1067.5 L848.75,1091.4 L849.00,1107.4 L849.25,1112.8 L853.75,1112.8 L854.00,1126.7 L862.00,1126.7 L862.25,1129.1 L877.75,1129.1 L878.00,1123.8 L880.75,1123.8 L881.00,1127.9 L881.25,1125.1 L881.50,1120.4 L881.75,1112.4 L882.00,1099.7 L882.25,1080.2 L882.50,1051.6 L882.75,1011.3 L883.00,957.0 L883.25,887.4 L883.50,802.4 L883.75,703.7 L884.00,595.6 L884.25,484.4 L884.50,378.6 L884.75,287.2 L885.00,219.0 L885.25,181.1 L885.50,174.1 L885.75,173.5 L886.00,173.1 L886.25,172.9 L886.50,172.7 L886.75,172.5 L887.00,172.4 L887.25,172.3 L887.50,172.2 L893.25,172.2 L893.50,172.3 L893.75,172.4 L894.00,172.5 L894.25,172.6 L894.50,172.8 L894.75,173.1 L895.00,173.4 L895.25,173.9 L895.50,177.6 L895.75,208.8 L896.00,271.4 L896.25,358.8 L896.50,462.5 L896.75,573.3 L897.00,682.7 L897.25,783.6 L897.50,871.6 L897.75,944.4 L898.00,1001.6 L898.25,1044.5 L898.50,1075.3 L898.75,1096.4 L899.00,1110.3 L899.25,1119.0 L901.75,1119.0 L902.00,1121.0 L906.50,1121.0 L906.75,1124.8 L911.50,1124.8 L911.75,1126.7 L921.75,1126.7 L922.00,1123.8 L930.50,1123.8 L930.75,1117.1 L932.00,1117.1 L932.25,1110.2 L932.50,1097.0 L932.75,1077.4 L933.00,1049.6 L933.25,1011.9 L933.50,963.0 L933.75,902.6 L934.00,831.8 L934.25,753.3 L934.50,671.5 L934.75,592.4 L935.00,522.4 L935.25,468.4 L935.50,435.8 L935.75,427.0 L936.00,426.3 L936.25,425.9 L936.50,425.6 L936.75,425.4 L937.00,425.2 L937.25,425.1 L937.50,425.0 L937.75,425.0 L938.00,424.9 L944.00,424.9 L944.25,425.0 L944.50,425.1 L944.75,425.2 L945.00,425.4 L945.25,425.6 L945.50,425.8 L945.75,426.2 L946.00,426.8 L946.25,432.2 L946.50,460.0 L946.75,510.2 L947.00,577.4 L947.25,655.3 L947.50,737.1 L947.75,816.6 L948.00,889.2 L948.25,951.8 L948.50,1003.0 L948.75,1042.9 L949.00,1072.6 L949.25,1093.6 L949.50,1107.5 L965.50,1107.5 L965.75,1118.1 L984.00,1118.1 L984.25,1115.8 L984.50,1105.0 L984.75,1088.2 L985.00,1063.0 L985.25,1026.9 L985.50,977.5 L985.75,912.9 L986.00,832.4 L986.25,737.0 L986.50,629.9 L986.75,516.8 L987.00,405.6 L987.25,305.4 L987.50,225.4 L987.75,173.8 L988.00,155.9 L988.25,154.8 L988.50,154.4 L988.75,154.1 L989.00,153.9 L989.25,153.7 L989.50,153.5 L989.75,153.4 L990.00,153.4 L990.25,153.3 L996.25,153.3 L996.50,153.4 L996.75,153.5 L997.00,153.6 L997.25,153.7 L997.50,153.9 L997.75,154.2 L998.00,154.5 L998.25,155.0 L998.50,158.8 L998.75,190.6 L999.00,254.4 L999.25,343.6 L999.50,449.3 L999.75,562.3 L1000.00,673.8 L1000.25,776.8 L1000.50,866.5 L1000.75,940.7 L1001.00,999.0 L1001.25,1042.8 L1001.50,1074.2 L1001.75,1095.8 L1002.00,1108.0 L1007.00,1108.0 L1007.25,1118.0 L1010.00,1118.0 L1010.25,1124.8 L1014.50,1124.8 L1014.75,1129.0 L1027.75,1129.0 L1028.00,1126.7 L1030.75,1126.7 L1031.00,1123.8 L1036.75,1123.8 L1037.00,1115.0 L1037.75,1115.0 L1038.00,1113.5 L1038.25,1101.8 L1038.50,1084.0 L1038.75,1058.0 L1039.00,1021.7 L1039.25,973.4 L1039.50,911.9 L1039.75,837.6 L1040.00,752.3 L1040.25,659.9 L1040.50,566.4 L1040.75,478.7 L1041.00,404.9 L1041.25,352.0 L1041.50,325.7 L1041.75,322.4 L1042.00,321.9 L1042.25,321.6 L1042.50,321.3 L1042.75,321.1 L1043.00,321.0 L1043.25,320.9 L1043.50,320.8 L1043.75,320.7 L1049.75,320.7 L1050.00,320.8 L1050.25,320.8 L1050.50,320.9 L1050.75,321.1 L1051.00,321.3 L1051.25,321.5 L1051.50,321.8 L1051.75,322.2 L1052.00,323.3 L1052.25,338.1 L1052.50,380.9 L1052.75,447.1 L1053.00,530.2 L1053.25,622.3 L1053.50,715.9 L1053.75,804.6 L1054.00,883.7 L1054.25,950.4 L1054.50,1003.9 L1054.75,1044.8 L1055.00,1074.7 L1055.25,1095.5 L1055.50,1109.5 L1055.75,1118.0 L1056.00,1118.0 L1056.25,1125.8 L1063.50,1125.8 L1063.75,1118.0 L1072.25,1118.0 L1072.50,1102.2 L1078.75,1102.2 L1079.00,1097.0 L1082.75,1097.0 L1083.00,1098.9 L1088.50,1098.9 L1088.75,1112.3 L1091.50,1112.3 L1091.75,1106.8 L1092.00,1094.3 L1092.25,1077.3 L1092.50,1055.2 L1092.75,1028.0 L1093.00,996.0 L1093.25,960.6 L1093.50,923.7 L1093.75,888.0 L1094.00,856.4 L1094.25,832.1 L1094.50,817.3 L1094.75,813.1 L1095.00,812.4 L1095.25,812.0 L1095.50,811.7 L1095.75,811.5 L1096.00,811.3 L1096.25,811.2 L1096.50,811.1 L1096.75,811.1 L1097.00,811.0 L1103.00,811.0 L1103.25,811.1 L1103.50,811.2 L1103.75,811.3 L1104.00,811.5 L1104.25,811.7 L1104.50,811.9 L1104.75,812.3 L1105.00,812.9 L1105.25,815.7 L1105.50,828.3 L1105.75,850.9 L1106.00,881.2 L1106.25,916.4 L1106.50,953.3 L1106.75,989.2 L1107.00,1021.9 L1107.25,1050.2 L1107.50,1073.3 L1107.75,1091.3 L1108.00,1104.6 L1108.25,1114.1 L1108.50,1118.0 L1112.50,1118.0 L1112.75,1122.0 L1116.50,1122.0 L1116.75,1124.8 L1118.50,1124.8 L1118.75,1127.7 L1132.75,1127.7 L1133.00,1124.8 L1135.25,1124.8 L1135.50,1122.0 L1142.00,1122.0 L1142.25,1124.3 L1144.50,1124.3 L1144.75,1121.0 L1145.00,1116.5 L1145.25,1110.6 L1145.50,1103.0 L1145.75,1093.7 L1146.00,1082.8 L1146.25,1070.3 L1146.50,1056.6 L1146.75,1042.4 L1147.00,1028.3 L1147.25,1015.3 L1147.50,1004.2 L1147.75,995.8 L1148.00,990.9 L1148.25,989.1 L1148.50,988.4 L1148.75,988.0 L1149.00,987.7 L1149.25,987.5 L1149.50,987.3 L1149.75,987.2 L1150.00,987.1 L1150.25,987.1 L1150.50,987.0 L1157.25,987.0 L1157.50,987.1 L1157.75,987.2 L1158.00,987.3 L1158.25,987.4 L1158.50,987.6 L1158.75,987.9 L1159.00,988.2 L1159.25,988.7 L1159.50,989.9 L1159.75,993.4 L1160.00,1000.5 L1160.25,1010.6 L1160.50,1022.9 L1160.75,1036.7 L1161.00,1050.9 L1161.25,1064.9 L1161.50,1077.9 L1161.75,1089.6 L1162.00,1099.5 L1162.25,1107.7 L1162.50,1114.3 L1162.75,1119.3 L1163.00,1121.4 L1167.50,1121.4 L1167.75,1124.8 L1170.00,1124.8 L1170.25,1131.0 L1178.50,1131.0 L1178.75,1127.2 L1197.25,1127.2 L1197.50,1128.6 L1200.00,1128.6 L1200.25,1127.2 L1200.50,1125.2 L1200.75,1122.2 L1201.00,1118.2 L1201.25,1112.7 L1201.50,1105.7 L1201.75,1097.0 L1202.00,1086.4 L1202.25,1074.2 L1202.50,1060.7 L1202.75,1046.3 L1203.00,1031.8 L1203.25,1018.0 L1203.50,1005.7 L1203.75,996.0 L1204.00,989.5 L1204.25,986.7 L1204.50,985.6 L1204.75,985.1 L1205.00,984.8 L1205.25,984.6 L1205.50,984.4 L1205.75,984.3 L1206.00,984.2 L1206.25,984.1 L1206.50,984.0 L1213.25,984.0 L1213.50,984.1 L1213.75,984.1 L1214.00,984.2 L1214.25,984.4 L1214.50,984.6 L1214.75,984.8 L1215.00,985.1 L1215.25,985.5 L1215.50,986.6 L1215.75,988.6 L1216.00,994.4 L1216.25,1003.6 L1216.50,1015.4 L1216.75,1029.0 L1217.00,1043.4 L1217.25,1057.9 L1217.50,1071.6 L1217.75,1084.1 L1218.00,1095.0 L1218.25,1104.1 L1218.50,1111.5 L1218.75,1117.2 L1219.00,1121.4 L1221.75,1121.4 L1222.00,1127.7 L1225.00,1127.7 L1225.25,1124.8 L1232.75,1124.8 L1233.00,1128.6 L1238.50,1128.6 L1238.75,1127.2 L1244.25,1127.2 L1244.50,1129.6 L1251.75,1129.6 L1252.00,1125.8 L1254.75,1125.8 L1255.00,1121.0 L1258.25,1121.0 L1258.50,1113.3 L1260.00,1113.3 L1260.25,1076.8 L1261.25,1076.8 L1261.50,1031.0 L1262.75,1031.0 L1263.00,878.0 L1264.25,878.0 L1264.50,540.0 L1265.75,540.0 L1266.00,504.5 L1266.75,504.5 L1267.00,430.6 L1273.25,430.6 L1273.50,407.4 L1273.75,336.3 L1274.00,311.1 L1274.25,310.0 L1274.50,309.6 L1274.75,309.3 L1275.00,309.1 L1275.25,308.9 L1275.50,308.7 L1275.75,308.6 L1276.00,308.6 L1276.25,308.5 L1282.50,308.5 L1282.75,308.6 L1283.00,308.6 L1283.25,308.7 L1283.50,308.8 L1283.75,309.0 L1284.00,309.2 L1284.25,309.5 L1284.50,309.9 L1284.75,310.6 L1285.00,327.3 L1285.25,390.1 L1285.50,489.3 L1285.75,520.8 L1290.00,520.8 L1290.25,672.5 L1301.00,672.5 L1301.25,922.0 L1306.75,922.0 L1307.00,1052.0 L1311.50,1052.0 L1311.75,1100.8 L1314.75,1100.8 L1315.00,1074.9 L1317.00,1074.9 L1317.25,1071.0 L1325.75,1071.0 L1326.00,1074.9 L1328.50,1074.9 L1328.75,1087.4 L1334.00,1087.4 L1334.25,1088.8 L1336.75,1088.8 L1337.00,1111.4 L1339.00,1111.4 L1339.25,1110.4 L1345.00,1110.4 L1345.25,1112.8 L1347.75,1112.8 L1348.00,1117.6 L1355.50,1117.6 L1355.75,1121.0 L1359.75,1121.0 L1360.00,1122.0 L1363.50,1122.0 L1363.75,1119.0 L1369.50,1119.0 L1369.75,1121.0 L1373.50,1121.0 L1373.75,1118.2 L1374.00,1113.1 L1374.25,1106.7 L1374.50,1098.8 L1374.75,1089.5 L1375.00,1079.0 L1375.25,1067.7 L1375.50,1056.0 L1375.75,1044.6 L1376.00,1034.2 L1376.25,1025.5 L1376.50,1019.1 L1376.75,1015.7 L1377.00,1014.4 L1377.25,1013.8 L1377.50,1013.4 L1377.75,1013.2 L1378.00,1013.0 L1378.25,1012.8 L1378.50,1012.7 L1378.75,1012.6 L1379.00,1012.5 L1384.00,1012.5 L1384.25,1012.6 L1384.50,1012.7 L1384.75,1012.8 L1385.00,1013.0 L1385.25,1013.2 L1385.50,1013.4 L1385.75,1013.8 L1386.00,1014.4 L1386.25,1015.4 L1388.50,1015.4 L1388.75,1106.7 L1389.00,1113.1 L1389.25,1118.2 L1389.50,1122.1 L1389.75,1125.0 L1390.00,1126.7 L1396.25,1126.7 L1396.50,1123.8 L1407.75,1123.8 L1408.00,1122.0 L1415.50,1122.0 L1415.75,1123.8 L1421.25,1123.8 L1421.50,1121.4 L1427.00,1121.4 L1427.25,1123.8 L1430.75,1123.8 L1431.00,1125.8 L1432.25,1125.8 L1432.50,1123.7 L1432.75,1118.8 L1433.00,1111.4 L1433.25,1100.5 L1433.50,1085.4 L1433.75,1065.2 L1434.00,1039.5 L1434.25,1008.5 L1434.50,972.9 L1434.75,934.3 L1435.00,895.3 L1435.25,858.7 L1435.50,827.9 L1435.75,805.8 L1436.00,794.8 L1436.25,792.9 L1436.50,792.4 L1436.75,792.1 L1437.00,791.8 L1437.25,791.6 L1437.50,791.5 L1437.75,791.4 L1438.00,791.3 L1438.25,791.2 L1444.25,791.2 L1444.50,791.3 L1444.75,791.3 L1445.00,791.4 L1445.25,791.6 L1445.50,791.8 L1445.75,792.0 L1446.00,792.3 L1446.25,792.7 L1446.50,793.8 L1446.75,800.0 L1447.00,817.8 L1447.25,845.5 L1447.50,880.2 L1447.75,918.6 L1448.00,957.7 L1448.25,994.7 L1448.50,1027.7 L1448.75,1055.6 L1449.00,1077.9 L1449.25,1095.0 L1449.50,1107.5 L1449.75,1116.2 L1450.00,1122.0 L1450.25,1125.7 L1450.50,1128.0 L1450.75,1128.6 L1453.75,1128.6 L1454.00,1123.8 L1462.50,1123.8 L1462.75,1126.7 L1465.00,1126.7 L1465.25,1128.7 L1473.25,1128.7 L1473.50,1126.9 L1478.75,1126.9 L1479.00,1128.7 L1483.75,1128.7 L1484.00,1126.9 L1486.75,1126.9 L1487.00,1123.7 L1491.75,1123.7 L1492.00,1121.3 L1492.25,1114.8 L1492.50,1104.9 L1492.75,1090.4 L1493.00,1070.2 L1493.25,1043.4 L1493.50,1009.2 L1493.75,967.9 L1494.00,920.5 L1494.25,869.2 L1494.50,817.2 L1494.75,768.5 L1495.00,727.5 L1495.25,698.1 L1495.50,683.4 L1495.75,681.2 L1496.00,680.7 L1496.25,680.4 L1496.50,680.1 L1496.75,679.9 L1497.00,679.8 L1497.25,679.7 L1497.50,679.6 L1497.75,679.5 L1503.75,679.5 L1504.00,679.6 L1504.25,679.6 L1504.50,679.7 L1504.75,679.9 L1505.00,680.1 L1505.25,680.3 L1505.50,680.6 L1505.75,681.0 L1506.00,682.1 L1506.25,690.3 L1506.50,714.1 L1506.75,750.9 L1507.00,797.1 L1507.25,848.3 L1507.50,900.3 L1507.75,949.6 L1508.00,993.5 L1508.25,1030.6 L1508.50,1060.4 L1508.75,1083.1 L1509.00,1099.7 L1509.25,1111.3 L1509.50,1119.0 L1509.75,1121.0 L1511.00,1121.0 L1511.25,1128.7 L1513.50,1128.7 L1513.75,1126.9 L1516.75,1126.9 L1517.00,1124.1 L1524.75,1124.1 L1525.00,1126.9 L1530.25,1126.9 L1530.50,1124.1 L1538.50,1124.1 L1538.75,1128.7 L1546.75,1128.7 L1547.00,1126.9 L1552.50,1126.9 L1552.75,1124.7 L1553.00,1120.4 L1553.25,1113.9 L1553.50,1104.2 L1553.75,1090.6 L1554.00,1072.3 L1554.25,1048.8 L1554.50,1020.0 L1554.75,986.7 L1555.00,950.2 L1555.25,912.7 L1555.50,876.9 L1555.75,846.0 L1556.00,823.0 L1556.25,810.2 L1556.50,807.4 L1556.75,806.8 L1557.00,806.4 L1557.25,806.2 L1557.50,806.0 L1557.75,805.8 L1558.00,805.7 L1558.25,805.6 L1558.50,805.5 L1564.50,805.5 L1564.75,805.6 L1565.00,805.6 L1565.25,805.7 L1565.50,805.8 L1565.75,806.0 L1566.00,806.2 L1566.25,806.5 L1566.50,806.9 L1566.75,807.6 L1567.00,811.9 L1567.25,826.9 L1567.50,851.7 L1567.75,883.8 L1568.00,920.1 L1568.25,957.7 L1568.50,993.7 L1568.75,1026.2 L1569.00,1053.9 L1569.25,1076.3 L1569.50,1093.6 L1569.75,1106.4 L1570.00,1115.4 L1570.25,1118.6 L1573.75,1118.6 L1574.00,1115.9 L1581.75,1115.9 L1582.00,1121.0 L1584.50,1121.0 L1584.75,1124.1 L1588.00,1124.1 L1588.25,1126.9 L1599.00,1126.9 L1599.25,1123.7 L1600.75,1123.7 L1601.00,1121.0 L1609.75,1121.0 L1610.00,1126.4 L1611.75,1126.4 L1612.00,1124.1 L1613.25,1124.1 L1613.50,1123.8 L1613.75,1119.5 L1614.00,1113.2 L1614.25,1104.2 L1614.50,1091.8 L1614.75,1075.2 L1615.00,1053.8 L1615.25,1027.1 L1615.50,994.9 L1615.75,957.7 L1616.00,916.4 L1616.25,872.5 L1616.50,828.1 L1616.75,785.9 L1617.00,748.6 L1617.25,718.8 L1617.50,698.8 L1617.75,690.3 L1618.00,689.1 L1618.25,688.6 L1618.50,688.3 L1618.75,688.1 L1619.00,687.9 L1619.25,687.8 L1619.50,687.7 L1619.75,687.6 L1620.00,687.5 L1626.50,687.5 L1626.75,687.6 L1627.00,687.7 L1627.25,687.8 L1627.50,688.0 L1627.75,688.2 L1628.00,688.4 L1628.25,688.8 L1628.50,689.4 L1628.75,692.3 L1629.00,705.5 L1629.25,729.6 L1629.50,762.7 L1629.75,802.4 L1630.00,845.8 L1630.25,890.2 L1630.50,933.3 L1630.75,973.2 L1631.00,1008.4 L1631.25,1038.4 L1631.50,1063.0 L1631.75,1082.4 L1632.00,1097.2 L1632.25,1108.2 L1632.50,1116.0 L1632.75,1121.4 L1633.00,1123.7 L1634.00,1123.7 L1634.25,1121.0 L1636.75,1121.0 L1637.00,1118.6 L1644.75,1118.6 L1645.00,1115.9 L1651.00,1115.9 L1651.25,1117.2 L1653.50,1117.2 L1653.75,1119.0 L1656.00,1119.0 L1656.25,1124.1 L1658.75,1124.1 L1659.00,1126.4 L1663.75,1126.4 L1664.00,1118.6 L1671.50,1118.6 L1671.75,1121.0 L1673.50,1121.0 L1673.75,1123.7 L1677.25,1123.7 L1677.50,1119.1 L1677.75,1112.0 L1678.00,1101.7 L1678.25,1087.4 L1678.50,1068.6 L1678.75,1044.9 L1679.00,1016.6 L1679.25,984.4 L1679.50,950.0 L1679.75,915.7 L1680.00,884.1 L1680.25,858.1 L1680.50,840.4 L1680.75,832.8 L1681.00,831.6 L1681.25,831.1 L1681.50,830.8 L1681.75,830.6 L1682.00,830.4 L1682.25,830.3 L1682.50,830.2 L1682.75,830.1 L1683.00,830.0 L1689.00,830.0 L1689.25,830.1 L1689.50,830.2 L1689.75,830.3 L1690.00,830.4 L1690.25,830.6 L1690.50,830.8 L1690.75,831.1 L1691.00,831.6 L1691.25,832.8 L1691.50,840.4 L1691.75,858.1 L1692.00,884.1 L1692.25,915.7 L1692.50,950.0 L1692.75,984.4 L1693.00,1016.6 L1693.25,1044.9 L1693.50,1068.6 L1693.75,1087.4 L1694.00,1101.7 L1694.25,1112.0 L1694.50,1118.2 L1696.75,1118.2 L1697.00,1115.9 L1702.75,1115.9 L1703.00,1119.0 L1705.50,1119.0 L1705.75,1122.8 L1708.00,1122.8 L1708.25,1126.4 L1710.25,1126.4 L1710.50,1113.6 L1713.25,1113.6 L1713.50,1110.8 L1719.50,1110.8 L1719.75,1113.6 L1722.00,1113.6 L1722.25,1121.0 L1726.75,1121.0 L1727.00,1123.7 L1728.50,1123.7 L1728.75,1110.8 L1730.25,1110.8 L1730.50,1108.5 L1737.75,1108.5 L1738.00,1112.6 L1741.00,1112.6 L1741.25,1121.0 L1741.75,1121.0 L1742.00,1117.9 L1742.25,1110.6 L1742.50,1100.5 L1742.75,1087.0 L1743.00,1069.9 L1743.25,1049.2 L1743.50,964.4 L1744.00,964.4 L1744.25,949.1 L1744.50,928.6 L1744.75,913.8 L1745.00,906.5 L1745.25,904.9 L1745.50,904.4 L1745.75,904.1 L1746.00,903.8 L1746.25,903.6 L1746.50,903.5 L1746.75,903.4 L1747.00,903.3 L1747.25,903.2 L1753.25,903.2 L1753.50,903.3 L1753.75,903.3 L1754.00,903.4 L1754.25,903.6 L1754.50,903.8 L1754.75,904.0 L1755.00,904.3 L1755.25,904.7 L1755.50,905.8 L1755.75,909.9 L1756.00,921.9 L1756.25,940.3 L1756.50,963.5 L1756.75,989.2 L1757.00,1015.3 L1757.25,1040.0 L1757.50,1062.0 L1757.75,1080.6 L1758.00,1095.6 L1758.25,1107.0 L1758.50,1115.3 L1758.75,1118.6 L1760.75,1118.6 L1761.00,1116.3 L1765.50,1116.3 L1765.75,1118.2 L1768.50,1118.2 L1768.75,1121.0 L1770.25,1121.0 L1770.50,1094.2 L1775.50,1094.2 L1775.75,1090.1 L1778.75,1090.1 L1779.00,1086.4 L1785.50,1086.4 L1785.75,1088.7 L1787.00,1088.7 L1787.25,1115.9 L1789.75,1115.9 L1790.00,1116.3 L1792.50,1116.3 L1792.75,1123.7 L1794.75,1123.7 L1795.00,1112.6 L1803.00,1112.6 L1803.25,1117.2 L1803.50,1115.2 L1803.75,1109.0 L1804.00,1101.1 L1804.25,1091.4 L1804.50,1079.8 L1804.75,1066.5 L1805.00,1051.6 L1805.25,1035.7 L1805.50,1019.3 L1805.75,1003.2 L1806.00,988.4 L1806.25,975.6 L1806.50,965.9 L1806.75,959.7 L1807.00,957.6 L1807.25,956.5 L1807.50,956.1 L1807.75,955.8 L1808.00,955.6 L1808.25,955.4 L1808.50,955.2 L1808.75,955.1 L1809.00,955.1 L1809.25,955.0 L1815.50,955.0 L1815.75,955.1 L1816.00,955.1 L1816.25,955.2 L1816.50,955.3 L1816.75,955.5 L1817.00,955.7 L1817.25,956.0 L1817.50,956.4 L1817.75,957.1 L1818.00,958.9 L1818.25,964.3 L1818.50,973.4 L1818.75,985.6 L1819.00,1000.1 L1819.25,1016.0 L1819.50,1032.4 L1819.75,1048.5 L1820.00,1063.6 L1820.25,1077.3 L1820.50,1089.2 L1820.75,1099.3 L1821.00,1107.5 L1821.25,1110.8 L1824.25,1110.8 L1824.50,1096.4 L1828.00,1096.4 L1828.25,1094.9 L1833.00,1094.9 L1833.25,1098.4 L1835.75,1098.4 L1836.00,1116.1 L1838.75,1116.1 L1839.00,1123.4 L1841.50,1123.4 L1841.75,1124.1 L1845.00,1124.1 L1845.25,1126.6 L1854.00,1126.6 L1854.25,1116.5 L1858.25,1116.5 L1858.50,1114.0 L1866.25,1114.0 L1866.50,1117.5 L1868.00,1117.5 L1868.25,1114.8 L1868.50,1110.0 L1868.75,1104.3 L1869.00,1097.7 L1869.25,1090.0 L1869.50,1081.5 L1869.75,1072.3 L1870.00,1062.5 L1870.25,1052.4 L1870.50,1042.5 L1870.75,1033.0 L1871.00,1024.3 L1871.25,1016.8 L1871.50,1010.9 L1871.75,1006.9 L1872.00,1005.0 L1872.25,1003.9 L1872.50,1003.4 L1872.75,1003.1 L1873.00,1002.8 L1873.25,1002.6 L1873.50,1002.5 L1873.75,1002.4 L1874.00,1002.3 L1874.25,1002.2 L1880.75,1002.2 L1881.00,1002.3 L1881.25,1002.4 L1881.50,1002.5 L1881.75,1002.6 L1882.00,1002.8 L1882.25,1003.1 L1882.50,1003.4 L1882.75,1003.9 L1883.00,1005.0 L1883.25,1006.9 L1883.50,1010.9 L1883.75,1016.8 L1884.00,1024.3 L1884.25,1033.0 L1884.50,1042.5 L1884.75,1052.4 L1885.00,1062.5 L1885.25,1072.3 L1885.50,1081.5 L1885.75,1090.0 L1886.00,1097.7 L1886.25,1104.3 L1886.50,1109.9 L1887.75,1109.9 L1888.00,1107.4 L1895.75,1107.4 L1896.00,1115.1 L1898.50,1115.1 L1898.75,1117.5 L1903.50,1117.5 L1903.75,1116.1 L1909.75,1116.1 L1910.00,1120.6 L1913.25,1120.6 L1913.50,1121.3 L1917.75,1121.3 L1918.00,1105.4 L1920.75,1105.4 L1921.00,1093.9 L1923.25,1093.9 L1923.50,1083.1 L1929.25,1083.1 L1929.25,1136 Z" fill="#00ffff"/>
<rect x="403.5" y="1129.6" width="1526" height="2.6" fill="#00cccc" clip-path="url(#cc)"/>
<path d="M1268.3,1132.0 L1269.3,1119.0 L1271.2,1062.0 L1273.8,1061.9 L1273.8,1064.2 L1275.8,1064.2 L1275.8,1080.0 L1278.8,1080.0 L1278.8,1089.0 L1281.8,1089.0 L1281.8,1101.9 L1284.8,1101.9 L1284.8,1105.2 L1287.4,1115.5 L1290.0,1116.2 L1290.0,1118.5 L1293.0,1118.5 L1293.0,1123.4 L1295.7,1123.4 L1295.7,1125.0 L1304.0,1125.0 L1304.0,1132.0 Z" fill="#ffffff"/>
<rect x="403.3" y="1140.2" width="1525.9" height="2.8" fill="#ffb8b8"/>
<line x1="403.3" y1="1136.2" x2="1929.2" y2="1136.2" stroke="#ff0000" stroke-width="8"/>
<rect x="864.3" y="106.8" width="215.7" height="1007.2" fill="none" stroke="#9a9a9a" stroke-width="7.4"/>
<rect x="864.3" y="106.8" width="215.7" height="1007.2" fill="none" stroke="#0a0a0a" stroke-width="4.4"/>
<line x1="723" y1="320.3" x2="792" y2="320.3" stroke="#5c5c5c" stroke-width="2.8"/>
<path d="M788.2,312.2 L820.6,320.6 L788.2,328.6 Z" fill="#080808"/>
<g font-family="'Liberation Serif','Times New Roman',serif" font-weight="bold" font-size="75.5" text-anchor="end" fill="#000">
<text x="362.3" y="1286.7">-2</text>
<text x="362.3" y="1156.9">0</text>
<text x="362.3" y="1027.1">2</text>
<text x="362.3" y="897.4">4</text>
<text x="362.3" y="767.6">6</text>
<text x="362.3" y="637.9">8</text>
<text x="362.3" y="508.1">10</text>
<text x="362.3" y="378.3">12</text>
<text x="362.3" y="248.6">14</text>
<text x="362.3" y="118.8">16</text>
</g>
<g font-family="'Liberation Serif','Times New Roman',serif" font-weight="bold" font-size="75.5" text-anchor="middle" fill="#000">
<text x="402.7" y="1366">1620</text>
<text x="783.7" y="1366">1640</text>
<text x="1164.7" y="1366">1660</text>
<text x="1545.7" y="1366">1680</text>
<text x="1926.7" y="1366">1700</text>
</g>
<text font-family="'Liberation Serif','Times New Roman',serif" font-weight="bold" font-size="98.0" x="803.8" y="1473" fill="#000">Wavelength (nm)</text>
<text font-family="'Liberation Serif','Times New Roman',serif" font-weight="bold" font-size="97.8" transform="translate(97,1233.5) rotate(-90)" fill="#000">Absorption crosssection</text>
<text font-family="'Liberation Serif','Times New Roman',serif" font-weight="bold" font-size="98.0" transform="translate(256,1110.3) rotate(-90)" fill="#000">(X 10<tspan dy="-33.5">-21</tspan><tspan dy="33.5"> cm</tspan><tspan dy="-33.5">2</tspan><tspan dy="33.5">/mol)</tspan></text>
<g font-family="'Liberation Serif','Times New Roman',serif" font-weight="bold" font-size="58.4" fill="#000">
<text x="427.6" y="192">Methane filter</text>
<text x="426.3" y="265">centered at</text>
<text x="426.4" y="340" textLength="181.2" lengthAdjust="spacing">1.65µm</text>
<text x="427.3" y="413.5" textLength="360.6" lengthAdjust="spacing">FWHM 12 nm</text>
</g>
<rect x="1359.8" y="53.5" width="556.8" height="160.6" fill="none" stroke="#575757" stroke-width="2.6"/>
<line x1="1391" y1="100.5" x2="1522" y2="100.5" stroke="#00ffff" stroke-width="10.5" stroke-linecap="round"/>
<line x1="1391" y1="180.5" x2="1522" y2="180.5" stroke="#ff0000" stroke-width="10.5" stroke-linecap="round"/>
<g font-family="'Liberation Serif','Times New Roman',serif" font-weight="bold" font-size="64.5" fill="#000">
<text x="1537.9" y="120.5" textLength="242.3" lengthAdjust="spacing">Methane</text>
<text x="1538.5" y="199.8" textLength="362.6" lengthAdjust="spacing">Water Vapor</text>
</g>
</svg>
</body></html>
